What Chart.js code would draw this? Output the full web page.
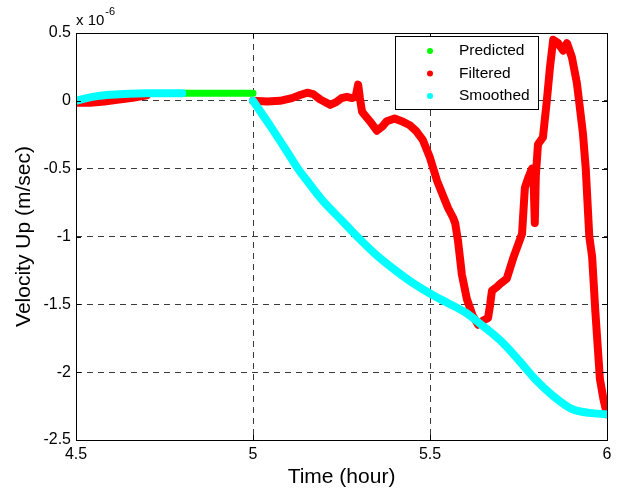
<!DOCTYPE html>
<html>
<head>
<meta charset="utf-8">
<script src="https://cdn.jsdelivr.net/npm/chart.js@4.4.1/dist/chart.umd.min.js"></script>
<style>
  html, body { margin: 0; padding: 0; background: #fff; }
  #wrap { width: 621px; height: 491px; }
</style>
</head>
<body>
<div id="wrap"><canvas id="velocityChart" width="621" height="491"></canvas></div>
<script>
const seriesNames = ["Predicted", "Filtered", "Smoothed"];
const seriesColors = ["#00ff00", "#ff0000", "#00ffff"];

// values in units of 1e-6 m/sec
const predictedTime = [4.8, 5.0];
const predictedVel = [0.055, 0.055];

const filteredTime = [4.5, 4.54, 4.58, 4.616, 4.66, 4.7, 4.85,
    5.0, 5.04, 5.076, 5.11, 5.135, 5.153, 5.17, 5.19, 5.205, 5.218, 5.235, 5.25, 5.265, 5.28, 5.29,
    5.297, 5.302, 5.308, 5.33, 5.35, 5.365, 5.378, 5.4, 5.42, 5.443, 5.46, 5.48, 5.5, 5.52, 5.54,
    5.551, 5.565, 5.571, 5.579, 5.59, 5.604, 5.62, 5.636, 5.65, 5.664, 5.67, 5.675, 5.69, 5.698,
    5.717, 5.735, 5.76, 5.768, 5.777, 5.788, 5.793, 5.796, 5.799, 5.805, 5.819, 5.83, 5.839, 5.848,
    5.862, 5.876, 5.887, 5.901, 5.915, 5.932, 5.94, 5.95, 5.958, 5.967, 5.98, 5.99, 6.0];
const filteredVel = [-0.015, -0.015, -0.005, 0.007, 0.022, 0.04, null,
    0.0, -0.005, 0.0, 0.02, 0.045, 0.06, 0.05, 0.01, -0.01, -0.03, -0.01, 0.02, 0.03, 0.02, 0.03,
    0.12, 0.02, -0.08, -0.15, -0.22, -0.19, -0.15, -0.13, -0.15, -0.18, -0.22, -0.29, -0.42, -0.59, -0.72,
    -0.79, -0.86, -0.9, -1.03, -1.28, -1.46, -1.58, -1.65, -1.62, -1.6, -1.5, -1.4, -1.37, -1.35,
    -1.31, -1.16, -0.98, -0.64, -0.57, -0.5, -0.62, -0.9, -0.55, -0.32, -0.27, 0.0, 0.25, 0.45,
    0.425, 0.37, 0.425, 0.32, 0.13, -0.24, -0.5, -1.0, -1.15, -1.55, -2.05, -2.2, -2.31];

const smoothedTime = [4.5, 4.53, 4.56, 4.6, 4.65, 4.7, 4.8, 4.9,
    5.0, 5.05, 5.1, 5.127, 5.15, 5.2, 5.25, 5.294, 5.35, 5.4, 5.45, 5.5, 5.55, 5.6, 5.64,
    5.7, 5.75, 5.8, 5.85, 5.9, 5.95, 6.0];
const smoothedVel = [0.0, 0.02, 0.035, 0.045, 0.052, 0.055, 0.055, null,
    0.0, -0.19, -0.39, -0.5, -0.58, -0.745, -0.88, -1.0, -1.14, -1.245, -1.34, -1.42, -1.49, -1.56, -1.64,
    -1.77, -1.91, -2.06, -2.18, -2.27, -2.3, -2.31];

const xTicks = [4.5, 5, 5.5, 6];
const xTickLabels = ["4.5", "5", "5.5", "6"];
const yTicks = [-2.5, -2, -1.5, -1, -0.5, 0, 0.5];
const yTickLabels = ["-2.5", "-2", "-1.5", "-1", "-0.5", "0", "0.5"];

const FONT = "'Liberation Sans', Arial, sans-serif";

function toPoints(times, values) {
    return times.map((t, i) => ({ x: t, y: values[i] }));
}

function edgeHidden(min, max) {
    return (c) => (c.tick.value === min || c.tick.value === max) ? "rgba(0,0,0,0)" : "#3a3a3a";
}

// black box, inward tick marks, exponent and boxed legend like the MATLAB figure
const matlabFrame = {
    id: "matlabFrame",
    afterDraw(chart) {
        const { ctx, chartArea: a, scales: { x, y } } = chart;
        ctx.save();
        ctx.strokeStyle = "#000";
        ctx.lineWidth = 1;
        ctx.strokeRect(Math.round(a.left) + 0.5, Math.round(a.top) + 0.5,
            Math.round(a.right - a.left), Math.round(a.bottom - a.top));

        ctx.beginPath();
        xTicks.forEach(v => {
            const px = Math.round(x.getPixelForValue(v)) + 0.5;
            ctx.moveTo(px, a.bottom); ctx.lineTo(px, a.bottom - 5);
            ctx.moveTo(px, a.top); ctx.lineTo(px, a.top + 5);
        });
        yTicks.forEach(v => {
            const py = Math.round(y.getPixelForValue(v)) + 0.5;
            ctx.moveTo(a.left, py); ctx.lineTo(a.left + 5, py);
            ctx.moveTo(a.right, py); ctx.lineTo(a.right - 5, py);
        });
        ctx.stroke();

        ctx.fillStyle = "#000";
        ctx.textAlign = "left";
        ctx.textBaseline = "alphabetic";
        ctx.font = "15px " + FONT;
        ctx.fillText("x 10", a.left, a.top - 8);
        const w = ctx.measureText("x 10").width;
        ctx.font = "11px " + FONT;
        ctx.fillText("-6", a.left + w + 1, a.top - 18);

        // legend
        const lx = 395, ly = 36, lw = 143, lh = 73;
        ctx.fillStyle = "#fff";
        ctx.fillRect(lx, ly, lw, lh);
        ctx.strokeStyle = "#000";
        ctx.strokeRect(lx + 0.5, ly + 0.5, lw, lh);
        ctx.font = "15.5px " + FONT;
        ctx.textBaseline = "middle";
        seriesNames.forEach((name, i) => {
            const cy = ly + 15 + i * 22.5;
            ctx.fillStyle = seriesColors[i];
            ctx.beginPath();
            ctx.arc(lx + 35, cy, 3, 0, Math.PI * 2);
            ctx.fill();
            ctx.fillStyle = "#000";
            ctx.fillText(name, lx + 64, cy);
        });
        ctx.restore();
    }
};

Chart.defaults.font.family = FONT;
Chart.defaults.color = "#000";

new Chart(document.getElementById("velocityChart"), {
    type: "scatter",
    data: {
        datasets: [
            {
                label: seriesNames[0],
                data: toPoints(predictedTime, predictedVel),
                borderColor: seriesColors[0],
                backgroundColor: seriesColors[0],
                borderWidth: 7,
                order: 1
            },
            {
                label: seriesNames[1],
                data: toPoints(filteredTime, filteredVel),
                borderColor: seriesColors[1],
                backgroundColor: seriesColors[1],
                borderWidth: 8,
                order: 2
            },
            {
                label: seriesNames[2],
                data: toPoints(smoothedTime, smoothedVel),
                borderColor: seriesColors[2],
                backgroundColor: seriesColors[2],
                borderWidth: 8,
                cubicInterpolationMode: "monotone",
                order: 0
            }
        ].map(d => Object.assign(d, {
            showLine: true,
            pointRadius: 0,
            pointHoverRadius: 0,
            borderCapStyle: "round",
            borderJoinStyle: "round",
            spanGaps: false
        }))
    },
    options: {
        responsive: false,
        animation: false,
        devicePixelRatio: 1,
        layout: { padding: { top: 33, right: 14, left: 0, bottom: 0 } },
        plugins: {
            legend: { display: false },
            tooltip: { enabled: false }
        },
        scales: {
            x: {
                type: "linear",
                min: 4.5,
                max: 6,
                afterBuildTicks: (scale) => { scale.ticks = xTicks.map(v => ({ value: v })); },
                afterFit: (scale) => { scale.height = 51; },
                ticks: {
                    font: { size: 16 },
                    padding: 5,
                    maxRotation: 0,
                    callback: (value, i) => xTickLabels[i]
                },
                grid: { color: edgeHidden(4.5, 6), lineWidth: 1, drawTicks: false },
                border: { display: false, dash: [6, 5] },
                title: {
                    display: true,
                    text: "Time (hour)",
                    font: { size: 21 },
                    padding: { top: 0, bottom: 1 }
                }
            },
            y: {
                type: "linear",
                min: -2.5,
                max: 0.5,
                afterBuildTicks: (scale) => { scale.ticks = yTicks.map(v => ({ value: v })); },
                afterFit: (scale) => { scale.width = 76; },
                ticks: {
                    font: { size: 16 },
                    padding: 5,
                    callback: (value, i) => yTickLabels[i]
                },
                grid: { color: edgeHidden(-2.5, 0.5), lineWidth: 1, drawTicks: false },
                border: { display: false, dash: [6, 5] },
                title: {
                    display: true,
                    text: "Velocity Up (m/sec)",
                    font: { size: 21 },
                    padding: { top: 12, bottom: 0 }
                }
            }
        }
    },
    plugins: [matlabFrame]
});
</script>
</body>
</html>
